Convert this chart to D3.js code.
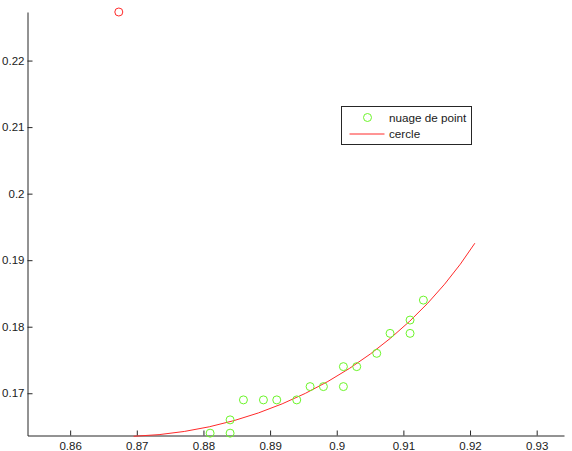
<!DOCTYPE html>
<html>
<head>
<meta charset="utf-8">
<script src="https://cdn.jsdelivr.net/npm/d3@7"></script>
<style>
  body { margin: 0; background: #fff; }
  svg { display: block; font-family: "Liberation Sans", Arial, Helvetica, sans-serif; }
  .axis path, .axis line { stroke: #262626; }
  .axis text { fill: #1a1a1a; font-size: 11.5px; }
</style>
</head>
<body>
<script>
// nuage de point (green circles)
const pointX = [0.881, 0.884, 0.884, 0.886, 0.889, 0.891, 0.894, 0.896, 0.898,
                0.901, 0.901, 0.903, 0.906, 0.908, 0.911, 0.911, 0.913];
const pointY = [0.164, 0.164, 0.166, 0.169, 0.169, 0.169, 0.169, 0.171, 0.171,
                0.171, 0.174, 0.174, 0.176, 0.179, 0.179, 0.181, 0.184];

// fitted circle: centre, radius, drawn angle range (degrees, y up)
const circleCenter = [0.8673, 0.2273];
const circleRadius = 0.0637;
const arcAngles = [-88, -33];

const xTicks = [0.86, 0.87, 0.88, 0.89, 0.9, 0.91, 0.92, 0.93];
const xTickLabels = ['0.86', '0.87', '0.88', '0.89', '0.9', '0.91', '0.92', '0.93'];
const yTicks = [0.17, 0.18, 0.19, 0.2, 0.21, 0.22];
const yTickLabels = ['0.17', '0.18', '0.19', '0.2', '0.21', '0.22'];

const legendLabels = ['nuage de point', 'cercle'];

const width = 572, height = 451;
const green = '#6cf52a';
const red = '#ff2a2a';

const xScale = d3.scaleLinear()
  .domain([0.8536, 0.9341])
  .range([27.5, 564]);

const yScale = d3.scaleLinear()
  .domain([0.16365, 0.2273])
  .range([435.5, 12]);

const svg = d3.select('body')
  .append('svg')
  .attr('width', width)
  .attr('height', height);

// axes (ticks point inward, matlab style)
svg.append('g')
  .attr('class', 'axis')
  .attr('transform', 'translate(' + xScale.range()[0] + ',0)')
  .call(d3.axisLeft(yScale)
    .tickValues(yTicks)
    .tickFormat((d, i) => yTickLabels[i])
    .tickSizeInner(-5)
    .tickSizeOuter(0)
    .tickPadding(3))
  .call(g => g.selectAll('text').attr('font-family', null).attr('font-size', null));

svg.append('g')
  .attr('class', 'axis')
  .attr('transform', 'translate(0,' + yScale.range()[0] + ')')
  .call(d3.axisBottom(xScale)
    .tickValues(xTicks)
    .tickFormat((d, i) => xTickLabels[i])
    .tickSizeInner(-5)
    .tickSizeOuter(0)
    .tickPadding(6))
  .call(g => g.selectAll('text').attr('font-family', null).attr('font-size', null));

// circle arc
const cxPx = xScale(circleCenter[0]);
const cyPx = yScale(circleCenter[1]);
const rPx = xScale(circleCenter[0] + circleRadius) - cxPx;
const arcPath = d3.path();
const a0 = -arcAngles[0] * Math.PI / 180;
const a1 = -arcAngles[1] * Math.PI / 180;
arcPath.moveTo(cxPx + rPx * Math.cos(a0), cyPx + rPx * Math.sin(a0));
arcPath.arc(cxPx, cyPx, rPx, a0, a1, true);

svg.append('path')
  .attr('d', arcPath.toString())
  .attr('fill', 'none')
  .attr('stroke', red)
  .attr('stroke-width', 1);

// points
svg.append('g')
  .selectAll('circle')
  .data(pointX.map((x, i) => ({ x: x, y: pointY[i] })))
  .enter()
  .append('circle')
  .attr('cx', d => xScale(d.x))
  .attr('cy', d => yScale(d.y))
  .attr('r', 4)
  .attr('fill', 'none')
  .attr('stroke', green)
  .attr('stroke-width', 1);

// centre of the circle
svg.append('circle')
  .attr('cx', cxPx)
  .attr('cy', cyPx)
  .attr('r', 4)
  .attr('fill', 'none')
  .attr('stroke', red)
  .attr('stroke-width', 1);

// legend
const legend = svg.append('g')
  .attr('transform', 'translate(341.5,106.5)');

legend.append('rect')
  .attr('width', 130)
  .attr('height', 38)
  .attr('fill', '#fff')
  .attr('stroke', '#262626');

legend.append('circle')
  .attr('cx', 26)
  .attr('cy', 11)
  .attr('r', 4)
  .attr('fill', 'none')
  .attr('stroke', green);

legend.append('line')
  .attr('x1', 8)
  .attr('x2', 43)
  .attr('y1', 27.5)
  .attr('y2', 27.5)
  .attr('stroke', red);

legend.selectAll('text')
  .data(legendLabels)
  .enter()
  .append('text')
  .attr('x', 47.5)
  .attr('y', (d, i) => 15 + i * 16)
  .attr('font-size', 11.7)
  .attr('fill', '#1a1a1a')
  .text(d => d);
</script>
</body>
</html>
